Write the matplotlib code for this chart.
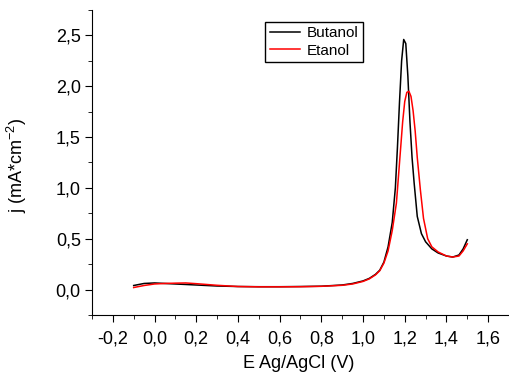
import matplotlib
matplotlib.use("Agg")
import matplotlib.pyplot as plt
from matplotlib.ticker import MultipleLocator, FuncFormatter

plt.rcParams['font.family'] = ['Liberation Sans', 'DejaVu Sans']
plt.rcParams['mathtext.default'] = 'regular'

# Butanol curve (E vs j)
e_but = [-0.10, -0.05, 0.00, 0.05, 0.10, 0.20, 0.30, 0.40, 0.50, 0.60, 0.70, 0.80,
         0.90, 0.95, 1.00, 1.03, 1.06, 1.08, 1.10, 1.12, 1.14, 1.155, 1.165, 1.175,
         1.185, 1.195, 1.205, 1.215, 1.225, 1.235, 1.245, 1.26, 1.28, 1.30, 1.33,
         1.36, 1.40, 1.43, 1.46, 1.48, 1.50]
j_but = [0.04, 0.06, 0.065, 0.06, 0.055, 0.045, 0.035, 0.03, 0.028, 0.028, 0.03, 0.033,
         0.045, 0.06, 0.085, 0.11, 0.15, 0.19, 0.27, 0.42, 0.66, 1.0, 1.4, 1.85,
         2.25, 2.46, 2.42, 2.1, 1.65, 1.3, 1.05, 0.72, 0.55, 0.47, 0.4,
         0.36, 0.33, 0.32, 0.34, 0.4, 0.49]

# Etanol curve
e_et = [-0.10, -0.05, 0.00, 0.05, 0.10, 0.15, 0.20, 0.30, 0.40, 0.50, 0.60, 0.70, 0.80,
        0.90, 0.95, 1.00, 1.03, 1.06, 1.08, 1.10, 1.12, 1.14, 1.16, 1.175, 1.19,
        1.20, 1.21, 1.22, 1.23, 1.24, 1.25, 1.26, 1.275, 1.29, 1.31, 1.33, 1.36,
        1.40, 1.43, 1.46, 1.48, 1.50]
j_et = [0.02, 0.04, 0.055, 0.06, 0.063, 0.065, 0.058, 0.042, 0.03, 0.027, 0.027, 0.028, 0.032,
        0.042, 0.055, 0.08, 0.105, 0.145, 0.185, 0.26, 0.38, 0.58, 0.85, 1.25, 1.65,
        1.85, 1.94, 1.95, 1.9, 1.76, 1.56, 1.3, 0.98, 0.7, 0.5, 0.42, 0.37,
        0.33, 0.32, 0.33, 0.38, 0.45]

x_ticks = [-0.2, 0.0, 0.2, 0.4, 0.6, 0.8, 1.0, 1.2, 1.4, 1.6]


def comma(v, pos):
    return ('%.1f' % v).replace('.', ',')


def main():
    fig = plt.figure(figsize=(5.09, 3.77), dpi=100)
    ax = fig.add_axes([0.1807, 0.1645, 0.8193, 0.809])
    ax.plot(e_but, j_but, color='black', lw=1.1, label='Butanol')
    ax.plot(e_et, j_et, color='red', lw=1.1, label='Etanol')

    ax.set_xlim(-0.3, 1.7)
    ax.set_ylim(-0.25, 2.75)
    ax.set_xticks(x_ticks)
    ax.xaxis.set_minor_locator(MultipleLocator(0.1))
    ax.yaxis.set_major_locator(MultipleLocator(0.5))
    ax.yaxis.set_minor_locator(MultipleLocator(0.25))
    ax.xaxis.set_major_formatter(FuncFormatter(comma))
    ax.yaxis.set_major_formatter(FuncFormatter(comma))
    ax.tick_params(which='major', length=5, labelsize=13, direction='out')
    ax.tick_params(which='minor', length=3, direction='out')
    ax.tick_params(axis='x', which='major', pad=6)
    ax.tick_params(axis='y', which='major', pad=3)

    ax.spines['top'].set_visible(False)
    ax.spines['right'].set_visible(False)

    ax.set_xlabel('E Ag/AgCl (V)', fontsize=13)
    ax.set_ylabel('j (mA*cm$^{-2}$)', fontsize=13)
    ax.xaxis.set_label_coords(0.495, -0.13)
    ax.yaxis.set_label_coords(-0.15, 0.49)

    leg = ax.legend(loc='upper left', bbox_to_anchor=(0.415, 0.961), fontsize=11,
                    fancybox=False, edgecolor='black', framealpha=1,
                    handlelength=2.0, borderpad=0.3, labelspacing=0.2,
                    handletextpad=0.4, borderaxespad=0)
    leg.get_frame().set_linewidth(1.0)

    fig.savefig('out.png', dpi=100)


if __name__ == '__main__':
    main()
